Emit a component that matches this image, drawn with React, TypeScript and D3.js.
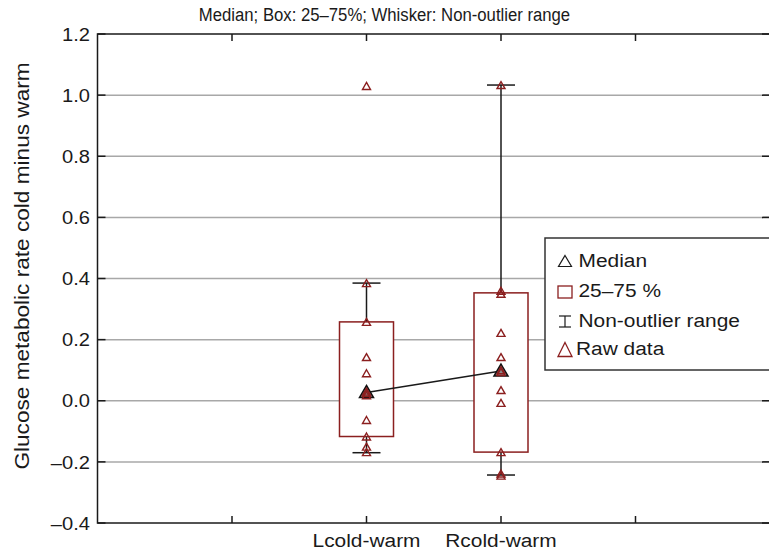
import React from "react";
import * as d3 from "d3";

const categories = ["Lcold-warm", "Rcold-warm"];
const categoryPos = [2, 3];
const medians = [0.027, 0.097];
const q1 = [-0.117, -0.168];
const q3 = [0.258, 0.353];
const whiskerLow = [-0.17, -0.243];
const whiskerHigh = [0.385, 1.033];
const rawL = [1.03, 0.385, 0.258, 0.143, 0.09, 0.03, 0.025, 0.018, -0.063, -0.117, -0.15, -0.168];
const rawR = [1.033, 0.36, 0.35, 0.222, 0.143, 0.1, 0.094, 0.035, -0.007, -0.168, -0.238, -0.245];
const rawData = [rawL, rawR];
const yTicks = [-0.4, -0.2, 0.0, 0.2, 0.4, 0.6, 0.8, 1.0, 1.2];
const yTickLabels = ["–0.4", "–0.2", "0.0", "0.2", "0.4", "0.6", "0.8", "1.0", "1.2"];
const gridValues = [-0.2, 0.0, 0.2, 0.4, 0.6, 0.8, 1.0];
const xTicks = [1, 2, 3, 4];
const legendItems = ["Median", "25–75 %", "Non-outlier range", "Raw data"];
const title = "Median; Box: 25–75%; Whisker: Non-outlier range";
const yLabel = "Glucose metabolic rate cold minus warm";

const W = 769;
const H = 554;
const FONT = "'Liberation Sans', Arial, Helvetica, sans-serif";
const RED = "#8b1f1f";
const SX = 1.1;

const x = d3.scaleLinear().domain([0, 5]).range([97.5, 770]);
const y = d3.scaleLinear().domain([-0.4, 1.2]).range([523, 34]);

function tri(cx: number, cy: number, w: number, h: number) {
  return `M${cx},${cy - h / 2}L${cx + w / 2},${cy + h / 2}L${cx - w / 2},${cy + h / 2}Z`;
}

function T(props: { x: number; y: number; anchor?: string; size?: number; sx?: number; children: React.ReactNode; rotate?: number }) {
  const { x: tx, y: ty, anchor = "start", size = 19, sx = SX, rotate = 0 } = props;
  return (
    <text
      transform={`translate(${tx},${ty}) rotate(${rotate}) scale(${sx},1)`}
      textAnchor={anchor}
      fontFamily={FONT}
      fontSize={size}
      fill="#1a1a1a"
    >
      {props.children}
    </text>
  );
}

export default function App() {
  const x0 = x(0);
  const x5 = x(5);
  const yTop = y(1.2);
  const yBot = y(-0.4);
  const boxHalf = 27;
  const capHalf = 14;
  const legX = 545;
  const legY = 238;
  const symX = 565;
  const legBase = [267, 296.5, 326.5, 355];
  return (
    <svg width={W} height={H} style={{ position: "absolute", left: 0, top: 0 }}>
      <rect x={0} y={0} width={W} height={H} fill="#fff" />
      {/* grid */}
      {gridValues.map((v, i) => (
        <line key={i} x1={x0} x2={x5} y1={y(v)} y2={y(v)} stroke="#a8a8a8" strokeWidth={1.5} />
      ))}
      {/* frame */}
      <rect x={x0} y={yTop} width={x5 - x0} height={yBot - yTop} fill="none" stroke="#1a1a1a" strokeWidth={1.5} />
      {/* ticks */}
      {yTicks.map((v, i) => (
        <g key={i}>
          <line x1={x0} x2={x0 + 8} y1={y(v)} y2={y(v)} stroke="#1a1a1a" strokeWidth={1.5} />
          <line x1={x5 - 8} x2={x5} y1={y(v)} y2={y(v)} stroke="#1a1a1a" strokeWidth={1.5} />
          <T x={90} y={y(v) + 6.7} anchor="end" sx={1.06}>{yTickLabels[i]}</T>
        </g>
      ))}
      {xTicks.map((v, i) => (
        <g key={i}>
          <line x1={x(v)} x2={x(v)} y1={yTop} y2={yTop + 7} stroke="#1a1a1a" strokeWidth={1.5} />
          <line x1={x(v)} x2={x(v)} y1={yBot} y2={yBot - 7} stroke="#1a1a1a" strokeWidth={1.5} />
        </g>
      ))}
      {categories.map((c, i) => (
        <T key={c} x={x(categoryPos[i])} y={546.5} anchor="middle">{c}</T>
      ))}
      {/* boxes and whiskers */}
      {categories.map((c, i) => {
        const cx = x(categoryPos[i]);
        return (
          <g key={c}>
            <line x1={cx} x2={cx} y1={y(q3[i])} y2={y(whiskerHigh[i])} stroke="#1a1a1a" strokeWidth={1.5} />
            <line x1={cx} x2={cx} y1={y(q1[i])} y2={y(whiskerLow[i])} stroke="#1a1a1a" strokeWidth={1.5} />
            <line x1={cx - capHalf} x2={cx + capHalf} y1={y(whiskerHigh[i])} y2={y(whiskerHigh[i])} stroke="#1a1a1a" strokeWidth={1.5} />
            <line x1={cx - capHalf} x2={cx + capHalf} y1={y(whiskerLow[i])} y2={y(whiskerLow[i])} stroke="#1a1a1a" strokeWidth={1.5} />
            <rect x={cx - boxHalf} y={y(q3[i])} width={boxHalf * 2} height={y(q1[i]) - y(q3[i])} fill="#fff" stroke={RED} strokeWidth={1.5} />
          </g>
        );
      })}
      {/* median line */}
      <path
        d={d3.line<number>().x((_, i) => x(categoryPos[i])).y((m) => y(m))(medians) || ""}
        fill="none"
        stroke="#1a1a1a"
        strokeWidth={1.5}
      />
      {medians.map((m, i) => (
        <path key={i} d={tri(x(categoryPos[i]), y(m) - 1, 14, 12)} fill="#8a8a8a" stroke="#111" strokeWidth={1.5} />
      ))}
      {/* raw */}
      {rawData.map((arr, i) =>
        arr.map((v, j) => (
          <path key={`${i}-${j}`} d={tri(x(categoryPos[i]), y(v), 8, 7)} fill="none" stroke={RED} strokeWidth={1.4} />
        ))
      )}
      {/* legend */}
      <rect x={legX} y={legY} width={260} height={132} fill="#fff" stroke="#333" strokeWidth={1.5} />
      <path d={tri(symX, 261, 13, 11)} fill="none" stroke="#1a1a1a" strokeWidth={1.2} />
      <rect x={symX - 7} y={286} width={14} height={12} fill="none" stroke={RED} strokeWidth={1.3} />
      <g stroke="#1a1a1a" strokeWidth={1.2}>
        <line x1={symX - 6} x2={symX + 6} y1={316} y2={316} />
        <line x1={symX - 6} x2={symX + 6} y1={327} y2={327} />
        <line x1={symX} x2={symX} y1={316} y2={327} />
      </g>
      <path d={tri(symX, 349.5, 14, 14)} fill="none" stroke={RED} strokeWidth={1.3} />
      {legendItems.map((t, i) => (
        <T key={t} x={i === 3 ? 576 : 578.5} y={legBase[i]}>{t}</T>
      ))}
      {/* title */}
      <T x={384.5} y={21} anchor="middle" sx={0.88}>{title}</T>
      {/* y label */}
      <T x={29} y={266} anchor="middle" rotate={-90} size={19.5} sx={1.16}>{yLabel}</T>
    </svg>
  );
}
